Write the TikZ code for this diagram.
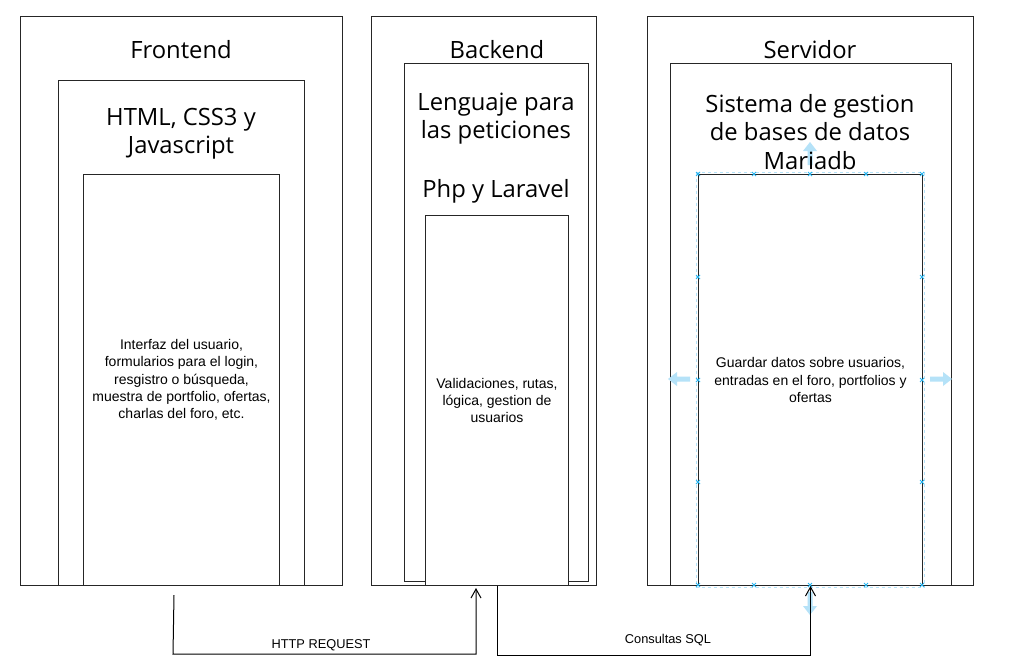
\documentclass[tikz,border=0pt]{standalone}
\usepackage{fontspec}
\setmainfont{Liberation Sans}
\newfontfamily\titlefont{Open Sans}
\usetikzlibrary{arrows.meta}
\definecolor{selblue}{HTML}{29B6F2}
\definecolor{sellight}{HTML}{B5E2F8}
\begin{document}
\begin{tikzpicture}[x=1pt,y=-1pt,
  box/.style={draw=black!85,line width=1pt,fill=white,inner sep=0pt,anchor=north west},
  ttl/.style={font=\titlefont\fontsize{23.8}{28.5}\selectfont,align=center,inner sep=0pt},
  txt/.style={font=\fontsize{14}{17.3}\selectfont,align=center,inner sep=0pt},
  lbl/.style={font=\fontsize{12.8}{14}\selectfont,inner sep=0pt},
  conn/.style={draw=black,line width=1pt,-{Straight Barb[length=9pt,width=10pt,line width=1pt]}},
  xmark/.style={draw=selblue,line width=0.8pt},
  harrow/.style={fill=sellight,draw=none}
]
\useasboundingbox (0,0) rectangle (1010,670);
\fill[white] (0,0) rectangle (1010,670);

% boxes
\node[box,minimum width=322pt,minimum height=569pt] (fo) at (20,16) {};
\node[box,minimum width=246pt,minimum height=505pt] (fm) at (58,80) {};
\node[box,minimum width=196pt,minimum height=411pt] (fi) at (83,174) {};
\node[box,minimum width=225pt,minimum height=569pt] (bo) at (371,16) {};
\node[box,minimum width=184pt,minimum height=518pt] (bm) at (404,63) {};
\node[box,minimum width=143pt,minimum height=370pt] (bi) at (425,215) {};
\node[box,minimum width=326pt,minimum height=569pt] (so) at (647,16) {};
\node[box,minimum width=281pt,minimum height=522pt] (sm) at (670,63) {};
\node[box,minimum width=224pt,minimum height=411pt] (si) at (698,174) {};

% selection handles
\draw[sellight,dashed,line width=0.8pt] (si.north west) ++(-1.5,-1.5) rectangle ([shift={(1.5,1.5)}]si.south east);
\foreach \px in {698,754,810,866,922}{
  \foreach \py in {174,585}{
    \draw[xmark] (\px-2,\py-2) -- (\px+2,\py+2) (\px-2,\py+2) -- (\px+2,\py-2);
  }
}
\foreach \py in {277,380,482}{
  \foreach \px in {698,922}{
    \draw[xmark] (\px-2,\py-2) -- (\px+2,\py+2) (\px-2,\py+2) -- (\px+2,\py-2);
  }
}
\fill[harrow] (668,379) -- (677,372) -- (677,376.5) -- (690,376.5) -- (690,381.5) -- (677,381.5) -- (677,386) -- cycle;
\fill[harrow] (952,379) -- (943,372) -- (943,376.5) -- (930,376.5) -- (930,381.5) -- (943,381.5) -- (943,386) -- cycle;
\fill[harrow] (810,142) -- (803,151) -- (807.5,151) -- (807.5,165) -- (812.5,165) -- (812.5,151) -- (817,151) -- cycle;
\fill[harrow] (810,615) -- (803,606) -- (807.5,606) -- (807.5,592) -- (812.5,592) -- (812.5,606) -- (817,606) -- cycle;

% texts
\node[ttl] (ft) at (181,50) {Frontend};
\node[ttl] (fmt) at (181,133.5) {HTML, CSS3 y\\Javascript};
\node[txt] (fit) at (fi.center) {Interfaz del usuario,\\formularios para el login,\\resgistro o búsqueda,\\muestra de portfolio, ofertas,\\charlas del foro, etc.};
\node[ttl] (bt) at (497,50) {Backend};
\node[ttl] (bmt) at (496,118.5) {Lenguaje para\\las peticiones};
\node[ttl] (bmt2) at (496,191) {Php y Laravel};
\node[txt] (bit) at (bi.center) {Validaciones, rutas,\\lógica, gestion de\\usuarios};
\node[ttl] (st) at (810,50) {Servidor};
\node[ttl] (smt) at (810,132) {Sistema de gestion\\de bases de datos\\Mariadb};
\node[txt] (sit) at (si.center) {Guardar datos sobre usuarios,\\entradas en el foro, portfolios y\\ofertas};

% connectors
\coordinate (h1) at (174,595);
\coordinate (h2) at (173,654);
\coordinate (h3) at (476,588);
\draw[conn] (h1) -- (h2) -- (h2 -| h3) -- (h3);
\draw[conn] (bi.south) -- ++(0,69) -| (si.south);
\node[lbl] (hl) at (321,645) {HTTP REQUEST};
\node[lbl] (cl) at (668,640) {Consultas SQL};
\end{tikzpicture}
\end{document}
